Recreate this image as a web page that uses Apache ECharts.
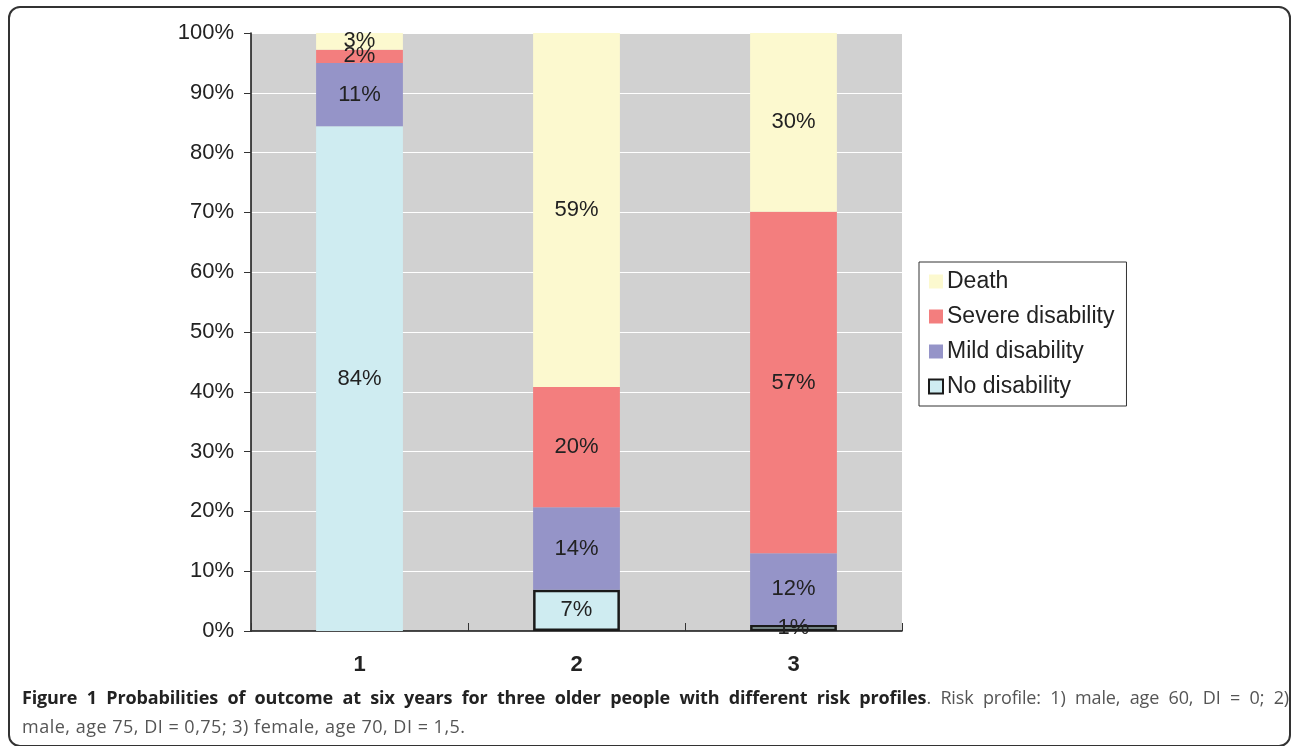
<!DOCTYPE html>
<html>
<head>
<meta charset="utf-8">
<script src="https://cdn.jsdelivr.net/npm/echarts@6/dist/echarts.min.js"></script>
<style>
html,body{margin:0;padding:0;background:#fff;}
#frame{position:absolute;left:8px;top:6px;width:1283px;height:741px;border:2px solid #333;border-radius:12px;box-sizing:border-box;}
#chart{position:absolute;left:0;top:0;width:1292px;height:746px;}
#cap{position:absolute;left:22px;top:683px;width:1267px;font-family:"Open Sans",sans-serif;font-size:18px;line-height:29px;color:#555;}
#cap .l1{text-align:justify;text-align-last:justify;white-space:nowrap;display:block;letter-spacing:-0.15px;}
#cap .l2{letter-spacing:0.5px;}
#cap b{color:#222;}
</style>
</head>
<body>
<div id="frame"></div>
<div id="chart"></div>
<div id="cap"><span class="l1"><b>Figure 1 Probabilities of outcome at six years for three older people with different risk profiles</b>. Risk profile: 1) male, age 60, DI = 0; 2)</span><span class="l2">male, age 75, DI = 0,75; 3) female, age 70, DI = 1,5.</span></div>
<script>
const categories = ['1', '2', '3'];
const seriesNames = ['No disability', 'Mild disability', 'Severe disability', 'Death'];
const noDisability = [84.4, 6.9, 1.0];
const mildDisability = [10.6, 13.8, 12.0];
const severeDisability = [2.2, 20.1, 57.1];
const death = [2.8, 59.2, 29.9];
const yTicks = [0, 10, 20, 30, 40, 50, 60, 70, 80, 90, 100];

const colors = {
  'No disability': '#CFECF1',
  'Mild disability': '#9594C8',
  'Severe disability': '#F37E7E',
  'Death': '#FCF9CF'
};
const values = [noDisability, mildDisability, severeDisability, death];
const FONT = "'Liberation Sans', Arial, sans-serif";

const chart = echarts.init(document.getElementById('chart'));
const label = {
  show: true, position: 'inside', fontSize: 22, color: '#222',
  fontFamily: FONT,
  formatter: p => Math.round(p.value) + '%'
};
const series = seriesNames.map((name, i) => {
  const isNo = name === 'No disability';
  return {
    name, type: 'bar', stack: 'total', barWidth: '40%',
    itemStyle: isNo ? {color: colors[name], borderColor: '#1a1a1a', borderWidth: 2.5} : {color: colors[name]},
    label,
    data: values[i].map((v, j) => (isNo && j === 0) ? {value: v, itemStyle: {borderWidth: 0}} : v)
  };
});

chart.setOption({
  animation: false,
  textStyle: {fontFamily: FONT},
  grid: {left: 251, top: 33, right: 390, bottom: 115, show: true, backgroundColor: '#D1D1D1', borderWidth: 0},
  legend: {
    orient: 'vertical', left: 919, top: 262,
    data: ['Death', 'Severe disability', 'Mild disability', 'No disability'],
    backgroundColor: '#fff', borderColor: '#333', borderWidth: 1,
    padding: [8, 12, 8, 9], itemWidth: 14, itemHeight: 14, itemGap: 12,
    textStyle: {fontSize: 23, color: '#222', fontFamily: FONT, padding: [0, 0, 0, -1]},
    icon: 'rect'
  },
  xAxis: {
    type: 'category', data: categories,
    axisLine: {lineStyle: {color: '#111', width: 1.5}},
    axisTick: {show: true, inside: true, length: 8, lineStyle: {color: '#333'}},
    axisLabel: {fontSize: 22, fontWeight: 'bold', color: '#222', margin: 23, fontFamily: FONT}
  },
  yAxis: {
    type: 'value', min: 0, max: 100, interval: 10,
    axisLine: {show: true, lineStyle: {color: '#111', width: 1.5}},
    axisTick: {show: true, length: 7, lineStyle: {color: '#333'}},
    splitLine: {lineStyle: {color: '#fff', width: 1}},
    axisLabel: {fontSize: 22, color: '#222', margin: 17, fontFamily: FONT,
      formatter: v => yTicks.includes(v) ? v + '%' : ''}
  },
  series
});
</script>
</body>
</html>
